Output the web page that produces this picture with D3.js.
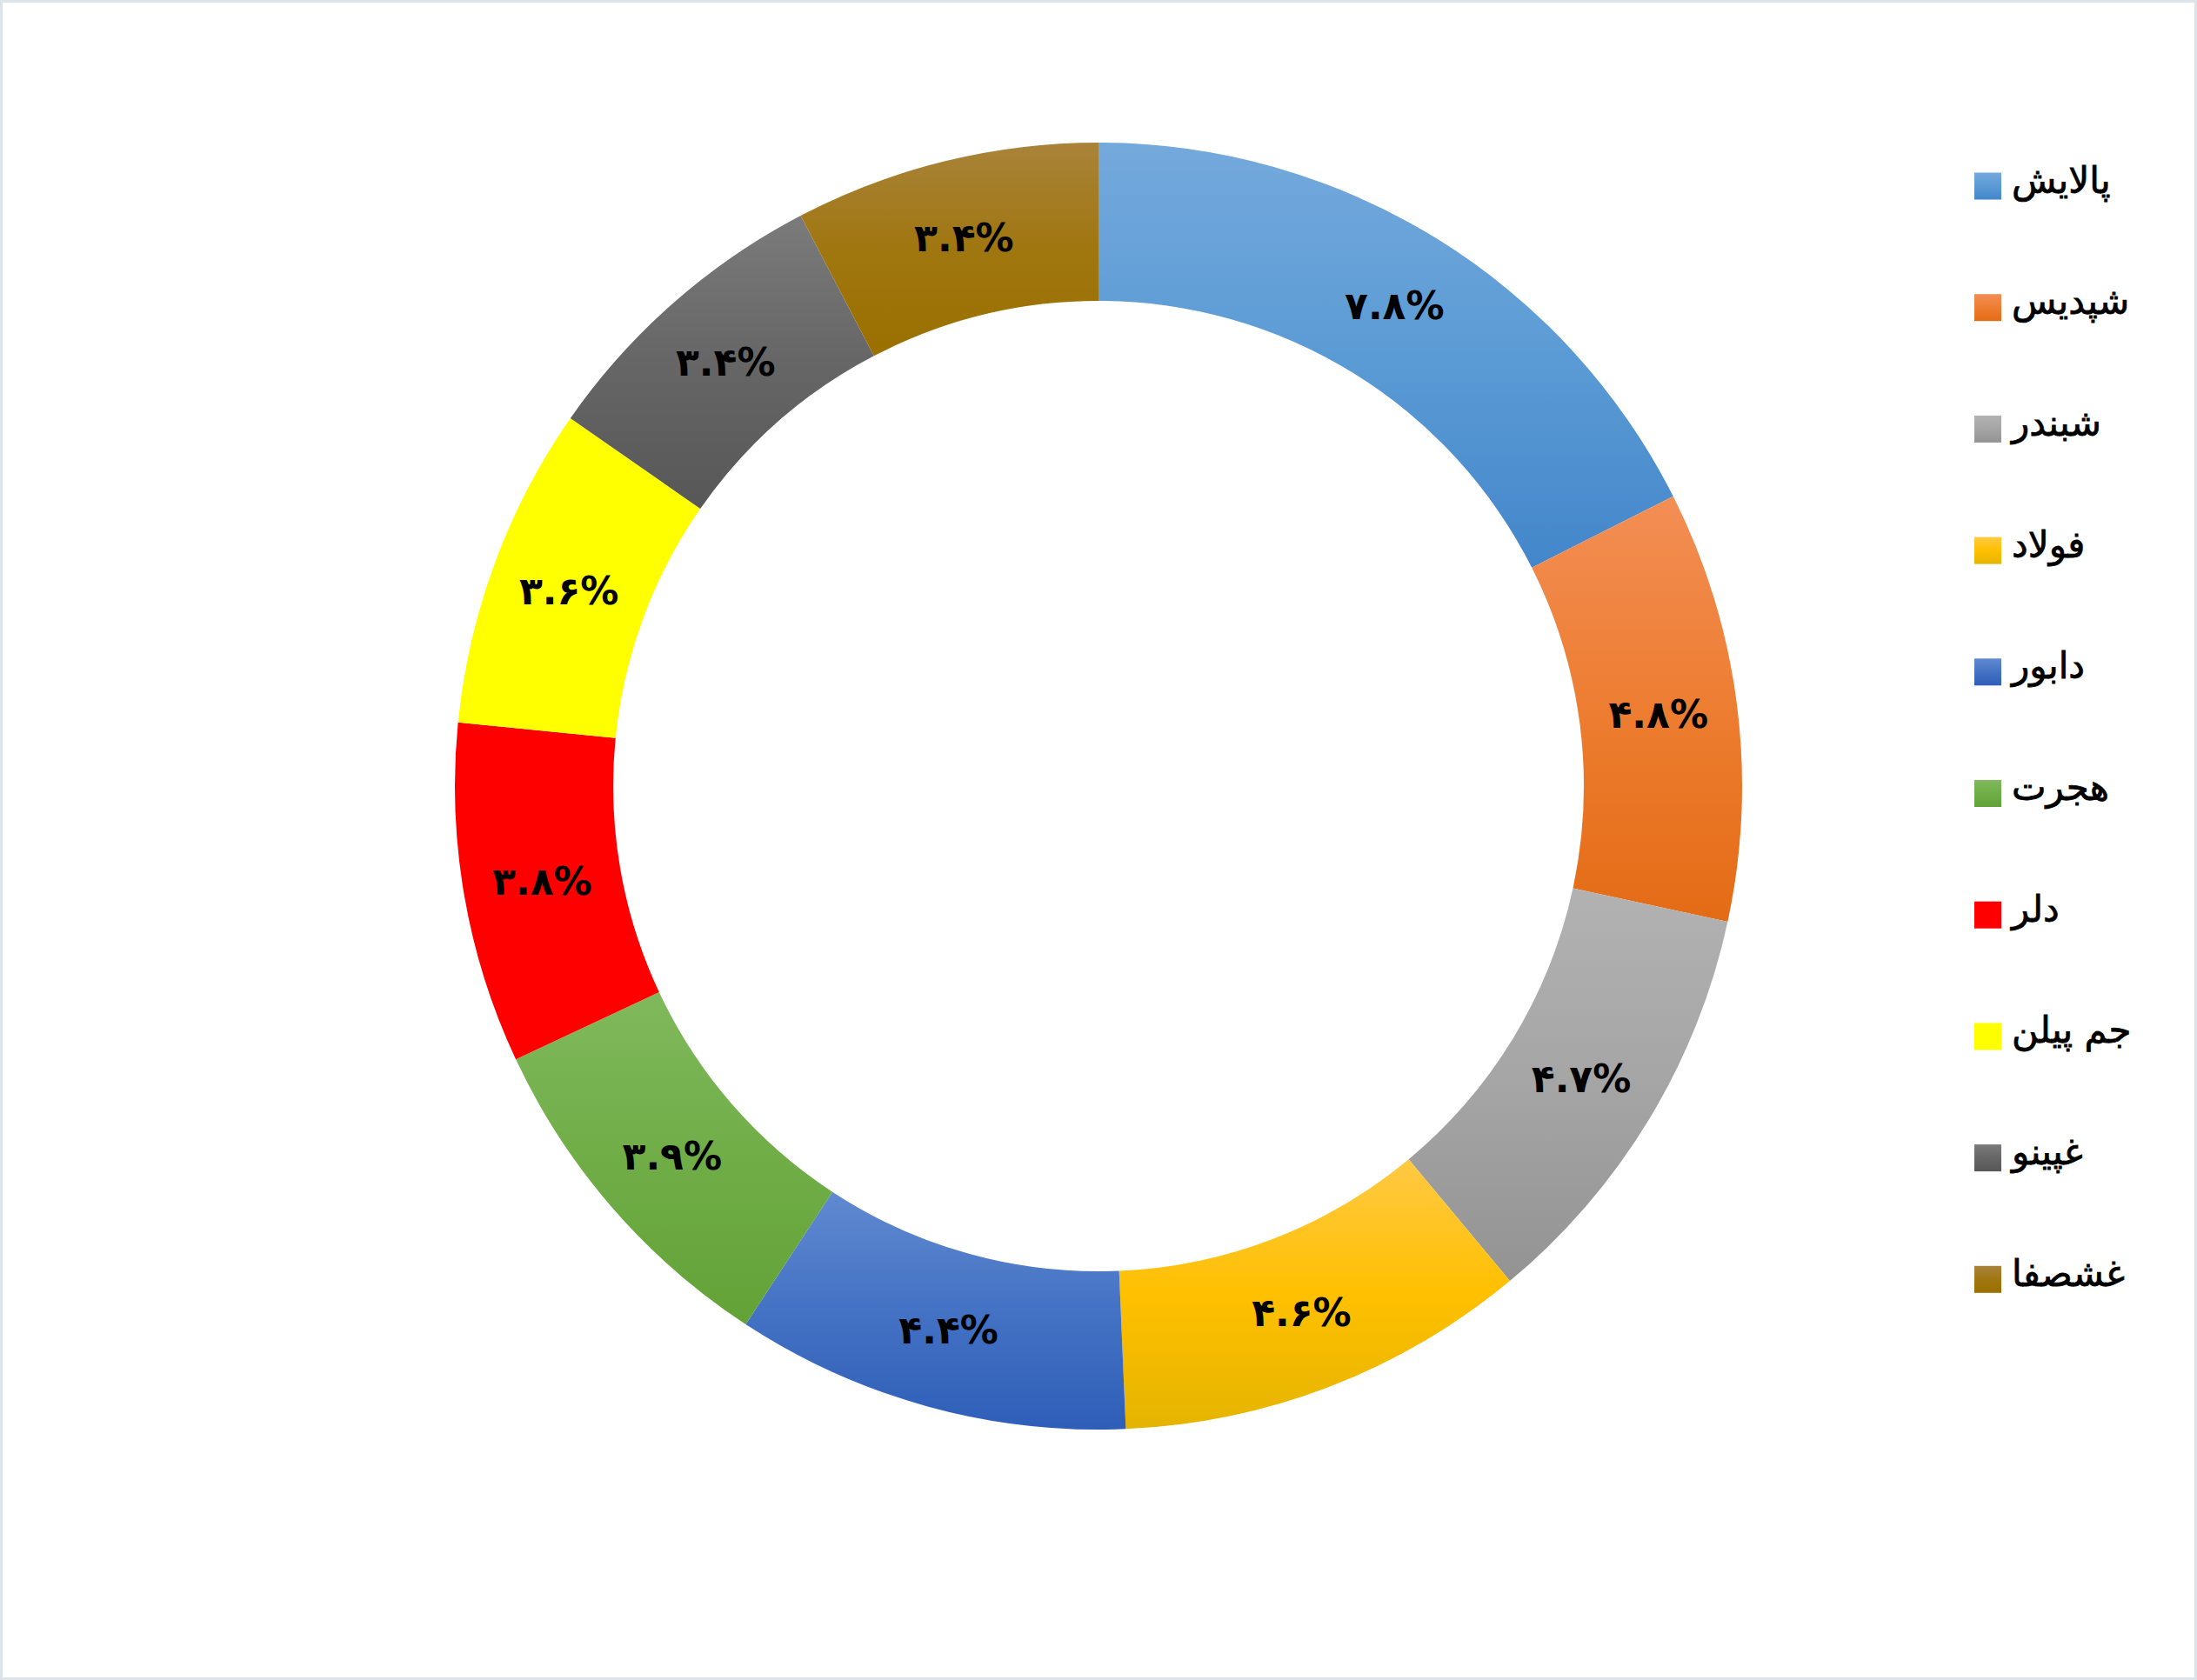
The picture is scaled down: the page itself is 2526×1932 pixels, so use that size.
<!DOCTYPE html>
<html>
<head>
<meta charset="utf-8">
<script src="https://cdn.jsdelivr.net/npm/d3@7"></script>
<style>
  html, body { margin: 0; padding: 0; background: #ffffff; }
  svg { display: block; }
</style>
</head>
<body>
<svg id="chart" width="2526" height="1932"></svg>
<script>
// ---- data ----
const categories = ["پالایش", "شپدیس", "شبندر", "فولاد", "دابور", "هجرت", "دلر", "جم پیلن", "غپینو", "غشصفا"];
const values = [7.8, 4.8, 4.7, 4.6, 4.4, 3.9, 3.8, 3.6, 3.4, 3.4];
const valueLabels = ["۷.۸%", "۴.۸%", "۴.۷%", "۴.۶%", "۴.۴%", "۳.۹%", "۳.۸%", "۳.۶%", "۳.۴%", "۳.۴%"];
// gradient stops per slice: [top, middle, bottom]
const sliceColors = [
  ["#74a9dc", "#5b9bd5", "#4386ca"],
  ["#f38e55", "#ed7d31", "#e46b15"],
  ["#b2b2b2", "#a5a5a5", "#939393"],
  ["#ffc944", "#ffc000", "#e5b400"],
  ["#6089d0", "#4472c4", "#2e5eb8"],
  ["#80b95c", "#70ad47", "#62a236"],
  ["#ff0000", "#ff0000", "#ff0000"],
  ["#ffff00", "#ffff00", "#ffff00"],
  ["#7b7b7b", "#666666", "#575757"],
  ["#a9833a", "#a07610", "#9a7000"]
];

const W = 2526, H = 1932;
const cx = 1263, cy = 904;
const outerR = 740, innerR = 558;

const svg = d3.select("#chart");

// frame
svg.append("rect")
  .attr("x", 1.5).attr("y", 1.5)
  .attr("width", W - 3).attr("height", H - 3)
  .attr("fill", "#ffffff")
  .attr("stroke", "#dde3ea")
  .attr("stroke-width", 3);

const defs = svg.append("defs");
sliceColors.forEach((c, i) => {
  const g = defs.append("linearGradient")
    .attr("id", "grad" + i)
    .attr("x1", 0).attr("y1", 0).attr("x2", 0).attr("y2", 1);
  g.append("stop").attr("offset", "0%").attr("stop-color", c[0]);
  g.append("stop").attr("offset", "50%").attr("stop-color", c[1]);
  g.append("stop").attr("offset", "100%").attr("stop-color", c[2]);
});

const pie = d3.pie().sort(null).value(d => d);
const arc = d3.arc().innerRadius(innerR).outerRadius(outerR);
const labelArc = d3.arc().innerRadius((innerR + outerR) / 2).outerRadius((innerR + outerR) / 2);

const arcs = pie(values);
const g = svg.append("g").attr("transform", `translate(${cx},${cy})`);

g.selectAll("path.slice")
  .data(arcs)
  .join("path")
  .attr("class", "slice")
  .attr("d", arc)
  .attr("fill", (d, i) => `url(#grad${i})`);

g.selectAll("text.vlabel")
  .data(arcs)
  .join("text")
  .attr("class", "vlabel")
  .attr("transform", d => `translate(${labelArc.centroid(d)})`)
  .attr("text-anchor", "middle")
  .attr("dominant-baseline", "central")
  .attr("direction", "ltr")
  .style("font-family", "'DejaVu Sans', sans-serif")
  .style("font-weight", "bold")
  .style("font-size", "44px")
  .attr("fill", "#000000")
  .text((d, i) => valueLabels[i]);

// legend
const legendX = 2270, legendY0 = 214, legendStep = 139.7, sq = 31;
const legend = svg.append("g");
const items = legend.selectAll("g.item")
  .data(categories)
  .join("g")
  .attr("class", "item")
  .attr("transform", (d, i) => `translate(${legendX},${legendY0 + i * legendStep})`);

items.append("rect")
  .attr("x", 0).attr("y", -sq / 2)
  .attr("width", sq).attr("height", sq)
  .attr("fill", (d, i) => `url(#grad${i})`);

items.append("text")
  .attr("x", sq + 12)
  .attr("y", -7)
  .attr("dominant-baseline", "central")
  .attr("text-anchor", "start")
  .style("font-family", "'DejaVu Sans', sans-serif")
  .style("font-size", "42px")
  .attr("fill", "#000000")
  .attr("stroke", "#000000")
  .attr("stroke-width", 0.8)
  .text(d => d);
</script>
</body>
</html>
